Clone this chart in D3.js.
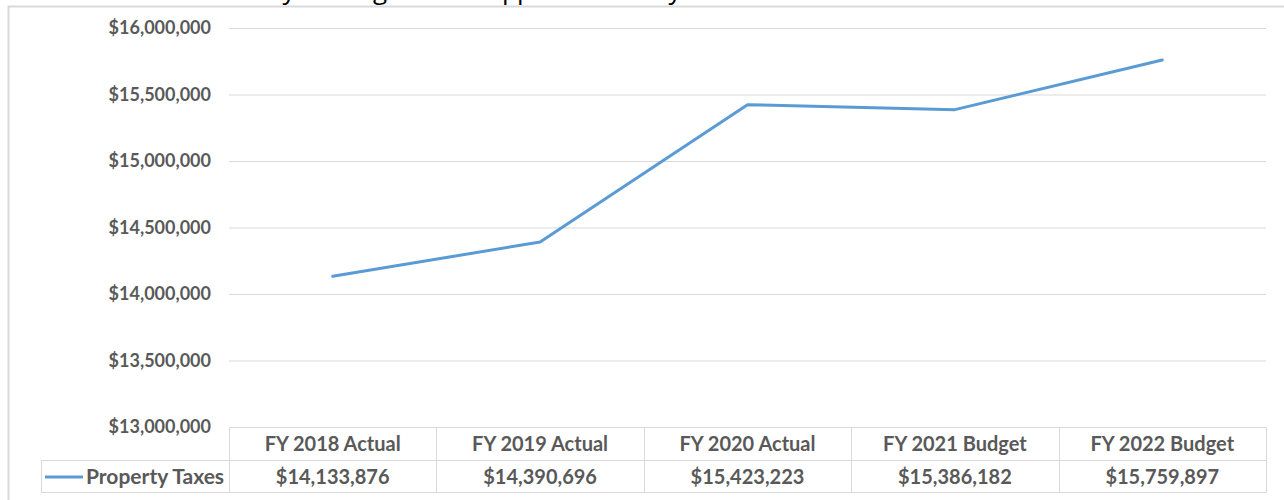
<!DOCTYPE html>
<html>
<head>
<meta charset="utf-8">
<script src="https://cdn.jsdelivr.net/npm/d3@7"></script>
<style>
  html, body { margin: 0; padding: 0; background: #fff; }
  svg { display: block; }
  text { font-family: Lato, "Open Sans", "DejaVu Sans", sans-serif; font-weight: 700; fill: #595959; }
</style>
</head>
<body>
<svg id="chart" width="1284" height="500"></svg>
<script>
// ---- data ----
const categories = ["FY 2018 Actual", "FY 2019 Actual", "FY 2020 Actual", "FY 2021 Budget", "FY 2022 Budget"];
const seriesName = "Property Taxes";
const values = [14133876, 14390696, 15423223, 15386182, 15759897];
const yTicks = [13000000, 13500000, 14000000, 14500000, 15000000, 15500000, 16000000];
// visible descenders of the clipped title above the chart frame
const titleGlyphs = ["y", "g", "p", "p", "y"];
const titleGlyphX = [289, 380, 510, 525, 675];

// ---- layout ----
const svg = d3.select("#chart");
const plotLeft = 229, plotRight = 1266, plotTop = 28, plotBottom = 427;
const row1Bottom = 461, row2Bottom = 493, legendLeft = 41;
const lineColor = "#5B9BD5", gridColor = "#d9d9d9";
const fmt = v => "$" + d3.format(",")(v);

const x = d3.scaleBand().domain(categories).range([plotLeft, plotRight]);
const y = d3.scaleLinear().domain([13000000, 16000000]).range([plotBottom, plotTop]);

// clipped title descenders
svg.append("g").selectAll("text").data(titleGlyphs).join("text")
  .attr("x", (d, i) => titleGlyphX[i]).attr("y", -1)
  .attr("text-anchor", "middle")
  .style("font-family", "'Open Sans', sans-serif").style("font-weight", 400)
  .style("font-size", "26px").style("fill", "#000")
  .text(d => d);

// chart frame
svg.append("rect")
  .attr("x", 8.5).attr("y", 6.5).attr("width", 1400).attr("height", 700)
  .attr("fill", "none").attr("stroke", gridColor).attr("stroke-width", 2);

// y axis with gridlines
const yAxis = d3.axisLeft(y).tickValues(yTicks).tickFormat(fmt)
  .tickSize(-(plotRight - plotLeft)).tickPadding(18);
const yg = svg.append("g").attr("transform", `translate(${plotLeft},0)`).call(yAxis);
yg.select(".domain").remove();
yg.selectAll(".tick line").attr("stroke", gridColor).attr("stroke-width", 1);
yg.selectAll(".tick text").style("font-size", "18px").style("fill", "#595959")
  .style("font-family", "Lato, sans-serif").style("font-weight", 700);

// data table
const tbl = svg.append("g");
tbl.append("line").attr("x1", legendLeft).attr("x2", plotRight).attr("y1", row1Bottom - 0.5).attr("y2", row1Bottom - 0.5)
  .attr("stroke", gridColor);
tbl.append("line").attr("x1", legendLeft).attr("x2", plotRight).attr("y1", row2Bottom - 0.5).attr("y2", row2Bottom - 0.5)
  .attr("stroke", gridColor);
const vx = categories.map(c => x(c)).concat([plotRight]);
tbl.selectAll("line.v").data(vx).join("line").attr("class", "v")
  .attr("x1", d => Math.round(d) + 0.5).attr("x2", d => Math.round(d) + 0.5)
  .attr("y1", plotBottom).attr("y2", row2Bottom)
  .attr("stroke", gridColor);
tbl.append("line").attr("x1", legendLeft + 0.5).attr("x2", legendLeft + 0.5)
  .attr("y1", row1Bottom).attr("y2", row2Bottom).attr("stroke", gridColor);

// header labels
tbl.selectAll("text.hdr").data(categories).join("text").attr("class", "hdr")
  .attr("x", d => x(d) + x.bandwidth() / 2).attr("y", (plotBottom + row1Bottom) / 2)
  .attr("dy", "0.35em").attr("text-anchor", "middle")
  .style("font-size", "20px").text(d => d);

// value labels
tbl.selectAll("text.val").data(values).join("text").attr("class", "val")
  .attr("x", (d, i) => x(categories[i]) + x.bandwidth() / 2).attr("y", (row1Bottom + row2Bottom) / 2)
  .attr("dy", "0.35em").attr("text-anchor", "middle")
  .style("font-size", "20px").text(d => fmt(d));

// legend key
tbl.append("line").attr("x1", 45).attr("x2", 83).attr("y1", 477).attr("y2", 477)
  .attr("stroke", lineColor).attr("stroke-width", 3);
tbl.append("text").attr("x", 86).attr("y", 477).attr("dy", "0.35em")
  .style("font-size", "21px").text(seriesName);

// series line
const line = d3.line()
  .x((d, i) => x(categories[i]) + x.bandwidth() / 2)
  .y(d => y(d));
svg.append("path").datum(values)
  .attr("d", line).attr("fill", "none")
  .attr("stroke", lineColor).attr("stroke-width", 3)
  .attr("stroke-linejoin", "round").attr("stroke-linecap", "round");
</script>
</body>
</html>
